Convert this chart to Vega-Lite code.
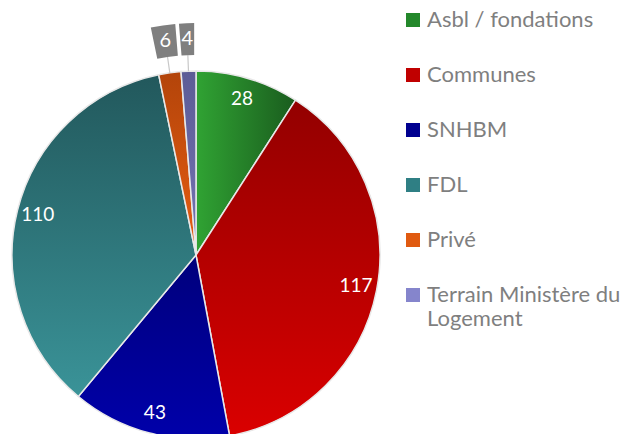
{
  "$schema": "https://vega.github.io/schema/vega-lite/v6.json",
  "width": 392,
  "height": 358,
  "autosize": {"type": "none"},
  "padding": {"left": 0, "top": 76, "right": 243, "bottom": 0},
  "background": "white",
  "config": {"view": {"stroke": null}},
  "data": {
    "values": [
      {"Category": "Asbl / fondations", "Value": 28, "order": 1},
      {"Category": "Communes", "Value": 117, "order": 2},
      {"Category": "SNHBM", "Value": 43, "order": 3},
      {"Category": "FDL", "Value": 110, "order": 4},
      {"Category": "Privé", "Value": 6, "order": 5},
      {"Category": "Terrain Ministère du Logement", "Value": 4, "order": 6}
    ]
  },
  "encoding": {
    "theta": {"field": "Value", "type": "quantitative", "stack": true},
    "order": {"field": "order", "type": "quantitative"}
  },
  "layer": [
    {
      "mark": {"type": "arc", "outerRadius": 184, "stroke": "#e8e8e8", "strokeWidth": 1.5},
      "encoding": {
        "color": {
          "field": "Category",
          "type": "nominal",
          "scale": {
            "domain": ["Asbl / fondations", "Communes", "SNHBM", "FDL", "Privé", "Terrain Ministère du Logement"],
            "range": ["#23882a", "#c00000", "#000090", "#2f7f84", "#e05a10", "#8585cc"]
          },
          "legend": {
            "title": null,
            "orient": "none",
            "legendX": 402,
            "legendY": -67,
            "symbolType": "square",
            "symbolSize": 196,
            "symbolStrokeWidth": 0,
            "labelFont": "Lato",
            "labelFontSize": 22,
            "labelColor": "#7f7f7f",
            "labelLimit": 300,
            "labelOffset": 3,
            "rowPadding": 33,
            "labelExpr": "datum.label == 'Terrain Ministère du Logement' ? ['Terrain Ministère du', 'Logement'] : datum.label",
            "encode": {"labels": {"update": {"lineHeight": {"value": 28}}}}
          },
          "condition": [
            {"test": "datum.Category == 'Asbl / fondations'", "value": {"gradient": "linear", "x1": 0, "y1": 0, "x2": 1, "y2": 0, "stops": [{"offset": 0, "color": "#30a333"}, {"offset": 1, "color": "#1a5c1e"}]}},
            {"test": "datum.Category == 'Communes'", "value": {"gradient": "linear", "x1": 0, "y1": 0, "x2": 0, "y2": 1, "stops": [{"offset": 0, "color": "#930000"}, {"offset": 1, "color": "#da0000"}]}},
            {"test": "datum.Category == 'SNHBM'", "value": {"gradient": "linear", "x1": 0, "y1": 0, "x2": 0, "y2": 1, "stops": [{"offset": 0, "color": "#00007c"}, {"offset": 1, "color": "#0000aa"}]}},
            {"test": "datum.Category == 'FDL'", "value": {"gradient": "linear", "x1": 0, "y1": 0, "x2": 0, "y2": 1, "stops": [{"offset": 0, "color": "#22585c"}, {"offset": 1, "color": "#3a9398"}]}},
            {"test": "datum.Category == 'Privé'", "value": {"gradient": "linear", "x1": 0, "y1": 0, "x2": 0, "y2": 1, "stops": [{"offset": 0, "color": "#b3440a"}, {"offset": 1, "color": "#e85e12"}]}},
            {"test": "datum.Category == 'Terrain Ministère du Logement'", "value": {"gradient": "linear", "x1": 0, "y1": 0, "x2": 0, "y2": 1, "stops": [{"offset": 0, "color": "#5c5c96"}, {"offset": 1, "color": "#7474b4"}]}}
          ]
        }
      }
    },
    {
      "mark": {"type": "arc", "innerRadius": 184, "outerRadius": 200, "padAngle": 2, "fill": null, "stroke": "#c8c8c8", "strokeWidth": 1.2},
      "encoding": {
        "strokeOpacity": {"condition": {"test": "datum.Value < 10", "value": 1}, "value": 0}
      }
    },
    {
      "mark": {"type": "arc", "innerRadius": 200, "outerRadius": 232, "padAngle": 0.012, "fill": "#7f7f7f", "stroke": null},
      "encoding": {
        "opacity": {"condition": {"test": "datum.Value < 10", "value": 1}, "value": 0}
      }
    },
    {
      "mark": {"type": "text", "radius": 163, "font": "Lato", "fontSize": 19, "fill": "white"},
      "encoding": {
        "text": {"condition": {"test": "datum.Value >= 10", "field": "Value", "type": "quantitative"}, "value": ""}
      }
    },
    {
      "mark": {"type": "text", "radius": 216, "font": "Lato", "fontSize": 20, "fill": "white"},
      "encoding": {
        "text": {"condition": {"test": "datum.Value < 10", "field": "Value", "type": "quantitative"}, "value": ""}
      }
    }
  ]
}
